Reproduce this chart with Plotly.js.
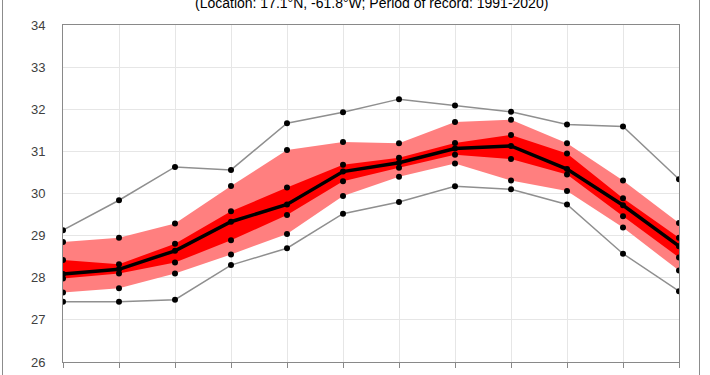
<!DOCTYPE html>
<html>
<head>
<meta charset="utf-8">
<script src="https://cdn.plot.ly/plotly-3.0.1.min.js"></script>
<style>
  html, body { margin: 0; padding: 0; overflow: hidden; background: #fff; }
  #frame { position: absolute; left: 2px; top: -40px; width: 696px; height: 460px; border: 1px solid #8c8c8c; }
  #chart { position: absolute; left: 0; top: 0; width: 710px; height: 375px; }
</style>
</head>
<body>
<div id="chart"></div>
<div id="frame"></div>
<script>
const months = ['Jan','Feb','Mar','Apr','May','Jun','Jul','Aug','Sep','Oct','Nov','Dec'];
const tMax  = [29.13, 29.84, 30.63, 30.56, 31.67, 31.93, 32.24, 32.09, 31.94, 31.64, 31.59, 30.34];
const tP90  = [28.85, 28.95, 29.29, 30.18, 31.03, 31.22, 31.19, 31.70, 31.75, 31.19, 30.31, 29.30];
const tP75  = [28.42, 28.32, 28.81, 29.58, 30.14, 30.68, 30.85, 31.20, 31.39, 30.95, 29.89, 28.95];
const tMean = [28.09, 28.20, 28.64, 29.33, 29.74, 30.52, 30.73, 31.07, 31.13, 30.58, 29.72, 28.75];
const tP25  = [27.98, 28.10, 28.36, 28.89, 29.49, 30.29, 30.61, 30.92, 30.82, 30.45, 29.46, 28.48];
const tP10  = [27.65, 27.75, 28.10, 28.55, 29.04, 29.94, 30.40, 30.71, 30.31, 30.06, 29.19, 28.17];
const tMin  = [27.43, 27.43, 27.48, 28.30, 28.70, 29.52, 29.80, 30.17, 30.10, 29.74, 28.57, 27.68];
const title = '(Location: 17.1°N, -61.8°W; Period of record: 1991-2020)';

const lightRed = '#ff7f7f';
const darkRed = '#ff0000';
const dot = {color: '#000', size: 6};
const none = {color: 'rgba(0,0,0,0)', width: 0};

const traces = [
  {x: months, y: tP10, mode: 'lines', line: none, hoverinfo: 'skip'},
  {x: months, y: tP90, mode: 'lines', line: none, fill: 'tonexty', fillcolor: lightRed},
  {x: months, y: tP25, mode: 'lines', line: none},
  {x: months, y: tP75, mode: 'lines', line: none, fill: 'tonexty', fillcolor: darkRed},
  {x: months, y: tMax, mode: 'lines+markers', line: {color: '#8f8f8f', width: 1.5}, marker: dot},
  {x: months, y: tMin, mode: 'lines+markers', line: {color: '#8f8f8f', width: 1.5}, marker: dot},
  {x: months, y: tP90, mode: 'markers', marker: dot},
  {x: months, y: tP10, mode: 'markers', marker: dot},
  {x: months, y: tP75, mode: 'markers', marker: dot},
  {x: months, y: tP25, mode: 'markers', marker: dot},
  {x: months, y: tMean, mode: 'lines+markers', line: {color: '#000', width: 3.5}, marker: dot}
];

const layout = {
  width: 710, height: 375,
  margin: {l: 63, r: 31, t: 25, b: 13},
  paper_bgcolor: '#fff', plot_bgcolor: '#fff',
  showlegend: false,
  font: {family: 'Liberation Sans, Arial, sans-serif', color: '#404040', size: 13},
  xaxis: {
    type: 'category', range: [0, 11], fixedrange: true,
    showgrid: true, gridcolor: '#e6e6e6', gridwidth: 1,
    showline: true, linecolor: '#898989', linewidth: 1, mirror: true,
    ticks: 'outside', ticklen: 5, tickcolor: '#898989',
    tickfont: {size: 13, color: '#404040'}, automargin: false
  },
  yaxis: {
    range: [26, 34], dtick: 1, fixedrange: true,
    showgrid: true, gridcolor: '#e6e6e6', gridwidth: 1,
    showline: true, linecolor: '#898989', linewidth: 1, mirror: true,
    ticks: '', ticklabelstandoff: 14, zeroline: false,
    tickfont: {size: 13, color: '#404040'}, automargin: false
  },
  annotations: [{
    text: title, xref: 'paper', yref: 'paper', x: 0.5, y: 1,
    xanchor: 'center', yanchor: 'bottom', yshift: 12, showarrow: false,
    font: {size: 14, color: '#000', family: 'Liberation Sans, Arial, sans-serif'}
  }]
};

Plotly.newPlot('chart', traces, layout, {staticPlot: true, displayModeBar: false});
</script>
</body>
</html>
